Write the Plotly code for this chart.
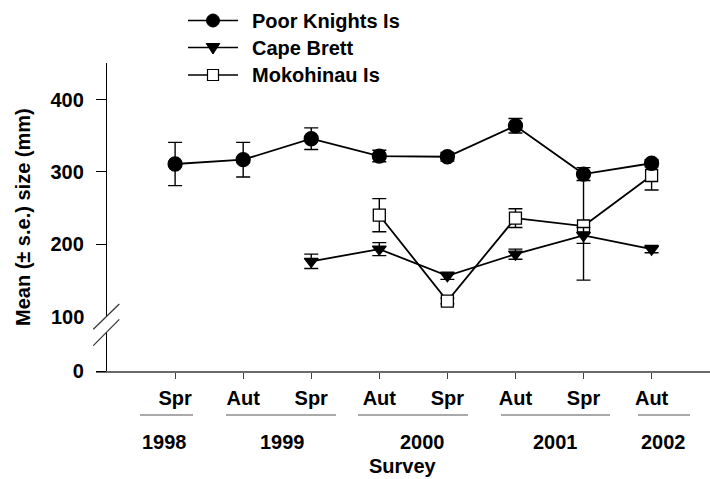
import plotly.graph_objects as go

# ---------------- data ----------------
seasons = ["Spr", "Aut", "Spr", "Aut", "Spr", "Aut", "Spr", "Aut"]
survey_years = [1998, 1999, 1999, 2000, 2000, 2001, 2001, 2002]
year_labels = ["1998", "1999", "2000", "2001", "2002"]

poor_knights = [311, 317, 346, 322, 321, 364, 297, 312]
poor_knights_se = [30, 24, 15, 8, 6, 10, 9, 5]

cape_brett = [None, None, 176, 193, 156, 186, 212, 193]
cape_brett_se = [None, None, 10, 9, 5, 7, 11, 5]

mokohinau = [None, None, None, 240, 121, 236, 225, 295]
mokohinau_se = [None, None, None, 23, 4, 13, 75, 20]

y_tick_vals = [24, 200, 300, 400]          # 0 sits below the axis break
y_tick_text = ["0", "200", "300", "400"]
series_names = ["Poor Knights Is", "Cape Brett", "Mokohinau Is"]

# ---------------- layout helpers (pixels -> paper) ----------------
W, H = 710, 479
L, R, T, B = 96, 0, 63, 108
PW, PH = W - L - R, H - T - B


def PX(x):
    return (x - L) / PW


def PY(y):
    return (H - B - y) / PH


FONT = "Liberation Sans, Arial, sans-serif"
FS = 20
x_idx = list(range(len(seasons)))

fig = go.Figure()


def add_series(vals, se, symbol, size, fill, name):
    fig.add_trace(go.Scatter(
        x=x_idx, y=vals, name=name, mode="lines+markers",
        line=dict(color="black", width=1.8),
        marker=dict(symbol=symbol, size=size, color=fill,
                    line=dict(color="black", width=1.3)),
        error_y=dict(type="data", array=se, visible=True,
                     color="black", thickness=1.4, width=7),
        connectgaps=False, showlegend=False, cliponaxis=False,
    ))


add_series(mokohinau, mokohinau_se, "square", 12, "white", series_names[2])
add_series(cape_brett, cape_brett_se, "triangle-down", 12, "black", series_names[1])
add_series(poor_knights, poor_knights_se, "circle", 14, "black", series_names[0])

shapes = []
annotations = []

# axis break
bx0, bx1 = 93.3, 119.3
b1 = (329.3, 304.0)
b2 = (345.7, 319.3)
shapes.append(dict(type="path", xref="paper", yref="paper",
                   path=f"M{PX(bx0)},{PY(b1[0])} L{PX(bx1)},{PY(b1[1])} "
                        f"L{PX(bx1)},{PY(b2[1])} L{PX(bx0)},{PY(b2[0])} Z",
                   fillcolor="white", line=dict(width=0), layer="above"))
for (ya, yb) in (b1, b2):
    shapes.append(dict(type="line", xref="paper", yref="paper",
                       x0=PX(bx0), y0=PY(ya), x1=PX(bx1), y1=PY(yb),
                       line=dict(color="#333", width=1.2), layer="above"))

annotations.append(dict(xref="paper", yref="paper", x=PX(86), y=PY(317),
                        text="100", showarrow=False, xanchor="right", yanchor="middle",
                        font=dict(family=FONT, size=FS, color="black", weight="bold")))

# year group rules and labels
year_rules_px = [(140, 193), (226, 336), (358, 468), (501, 610), (638, 690)]
year_text_px = [164, 282, 422, 555, 663]
for (a, b), xt, lab in zip(year_rules_px, year_text_px, year_labels):
    shapes.append(dict(type="line", xref="paper", yref="paper",
                       x0=PX(a), x1=PX(b), y0=PY(415), y1=PY(415),
                       line=dict(color="#555", width=1.2)))
    annotations.append(dict(xref="paper", yref="paper", x=PX(xt), y=PY(442),
                            text=lab, showarrow=False, xanchor="center", yanchor="middle",
                            font=dict(family=FONT, size=FS, color="black", weight="bold")))

annotations.append(dict(xref="paper", yref="paper", x=PX(403), y=PY(466),
                        text="Survey", showarrow=False, xanchor="center", yanchor="middle",
                        font=dict(family=FONT, size=FS, color="black", weight="bold")))
annotations.append(dict(xref="paper", yref="paper", x=PX(23), y=PY(217),
                        text="Mean (± s.e.) size (mm)", textangle=-90, showarrow=False,
                        xanchor="center", yanchor="middle",
                        font=dict(family=FONT, size=FS, color="black", weight="bold")))

# manual legend
rows = [20.5, 47.5, 75.0]
kx0, kx1, km = 188, 238, 213
for i, (name, yrow) in enumerate(zip(series_names, rows)):
    shapes.append(dict(type="line", xref="paper", yref="paper",
                       x0=PX(kx0), x1=PX(kx1), y0=PY(yrow), y1=PY(yrow),
                       line=dict(color="black", width=1.6)))
    if i == 0:
        r = 6.5
        shapes.append(dict(type="circle", xref="paper", yref="paper",
                           x0=PX(km - r), x1=PX(km + r), y0=PY(yrow - r), y1=PY(yrow + r),
                           fillcolor="black", line=dict(color="black", width=1)))
    elif i == 1:
        hw, up, dn = 6.8, 4.0, 6.5
        shapes.append(dict(type="path", xref="paper", yref="paper",
                           path=f"M{PX(km - hw)},{PY(yrow - up)} L{PX(km + hw)},{PY(yrow - up)} "
                                f"L{PX(km)},{PY(yrow + dn)} Z",
                           fillcolor="black", line=dict(color="black", width=1)))
    else:
        s = 5.5
        shapes.append(dict(type="rect", xref="paper", yref="paper",
                           x0=PX(km - s), x1=PX(km + s), y0=PY(yrow - s), y1=PY(yrow + s),
                           fillcolor="white", line=dict(color="black", width=1.2)))
    annotations.append(dict(xref="paper", yref="paper", x=PX(250), y=PY(yrow),
                            text=name, showarrow=False, xanchor="left", yanchor="middle",
                            font=dict(family=FONT, size=FS, color="black", weight="bold")))

fig.update_layout(
    width=W, height=H,
    margin=dict(l=L, r=R, t=T, b=B),
    paper_bgcolor="white", plot_bgcolor="white",
    showlegend=False,
    shapes=shapes, annotations=annotations,
    xaxis=dict(range=[-1.162, 7.858], tickvals=x_idx, ticktext=seasons,
               showline=True, linecolor="#6a6a6a", linewidth=2,
               ticks="outside", ticklen=6, tickcolor="#444", tickwidth=1,
               showgrid=False, zeroline=False, ticklabelstandoff=2,
               tickfont=dict(family=FONT, size=FS, color="black", weight="bold")),
    yaxis=dict(range=[24, 451], anchor="free", position=PX(106),
               tickvals=y_tick_vals, ticktext=y_tick_text,
               showline=True, linecolor="black", linewidth=1.4,
               ticks="outside", ticklen=10, tickcolor="black", tickwidth=1,
               showgrid=False, zeroline=False, ticklabelstandoff=8,
               tickfont=dict(family=FONT, size=FS, color="black", weight="bold")),
)

fig.write_html("out.html",
               config={"displayModeBar": False},
               post_script="document.body.style.margin='0';document.body.style.padding='0';")
